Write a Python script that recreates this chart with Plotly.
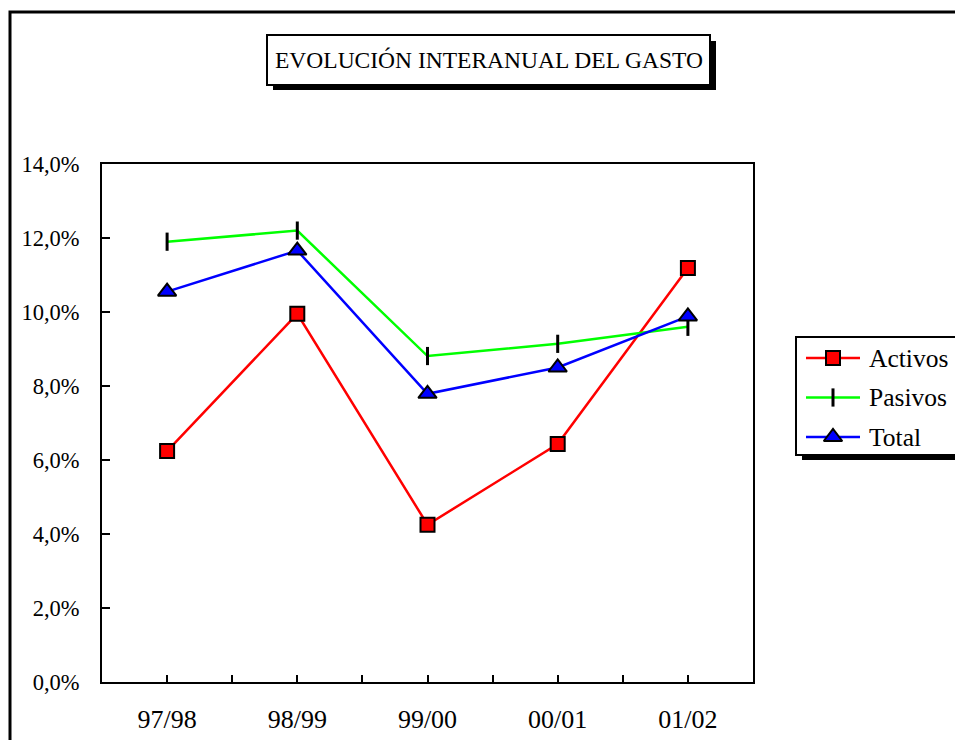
import plotly.graph_objects as go

# ---- data ----
categories = ["97/98", "98/99", "99/00", "00/01", "01/02"]
activos = [6.24, 9.95, 4.25, 6.43, 11.19]
pasivos = [11.90, 12.20, 8.81, 9.14, 9.60]
total = [10.55, 11.66, 7.79, 8.50, 9.88]
y_ticks = [0, 2, 4, 6, 8, 10, 12, 14]
y_ticktext = ["0,0%", "2,0%", "4,0%", "6,0%", "8,0%", "10,0%", "12,0%", "14,0%"]
series_names = ["Activos", "Pasivos", "Total"]

# page offset (browser body margin)
OX, OY = 8, 8
W, H = 963 - OX, 740 - OY
FONT = "Liberation Serif, Times New Roman, Times, serif"

def px(xp):  # page pixel -> paper fraction (margins are zero)
    return (xp - OX) / W

def py(yp):
    return 1 - (yp - OY) / H

# styles
styles = [
    dict(line=dict(color="#FF0000", width=2.5),
         marker=dict(symbol="square", size=14, color="#FF0000", line=dict(color="black", width=2))),
    dict(line=dict(color="#00FF00", width=2.5),
         marker=dict(symbol="line-ns", size=13, color="black", line=dict(color="black", width=3))),
    dict(line=dict(color="#0000FF", width=2.5),
         marker=dict(symbol="triangle-up", size=16, color="#0000FF", line=dict(color="black", width=2))),
]
values = [activos, pasivos, total]

xpos = list(range(len(categories)))

fig = go.Figure()
for name, vals, st in zip(series_names, values, styles):
    fig.add_trace(go.Scatter(x=xpos, y=vals, name=name, mode="lines+markers",
                             line=st["line"], marker=st["marker"],
                             xaxis="x", yaxis="y", showlegend=False))

# ---- manual legend on an overlay axis measured in page pixels ----
LEG_X0, LEG_X1, LEG_Y0, LEG_Y1 = 796, 956, 337, 455
row_y = [358, 397.5, 437]
annotations = []
for name, st, ry in zip(series_names, styles, row_y):
    fig.add_trace(go.Scatter(x=[806, 860], y=[ry, ry], mode="lines", line=st["line"],
                             xaxis="x2", yaxis="y2", showlegend=False, hoverinfo="skip"))
    fig.add_trace(go.Scatter(x=[833], y=[ry], mode="markers", marker=st["marker"],
                             xaxis="x2", yaxis="y2", showlegend=False, hoverinfo="skip"))
    annotations.append(dict(text=name, x=867, y=ry, xref="x2", yref="y2",
                            xanchor="left", yanchor="middle", showarrow=False,
                            font=dict(family=FONT, size=25.5, color="black")))

annotations.append(dict(text="EVOLUCIÓN INTERANUAL DEL GASTO", xref="paper", yref="paper",
                        x=px(489), y=py(60), xanchor="center", yanchor="middle",
                        showarrow=False, font=dict(family=FONT, size=23.5, color="black")))

# x ticks at categories and midpoints
tickvals = []
ticktext = []
for i, c in enumerate(categories):
    tickvals.append(i)
    ticktext.append(c)
    if i < len(categories) - 1:
        tickvals.append(i + 0.5)
        ticktext.append("")

shapes = [
    # outer chart border
    dict(type="rect", xref="paper", yref="paper",
         x0=px(10), x1=px(980), y0=py(12), y1=py(780),
         line=dict(color="black", width=3), fillcolor="rgba(0,0,0,0)", layer="below"),
    # title shadow + box
    dict(type="rect", xref="paper", yref="paper",
         x0=px(273), x1=px(716), y0=py(41), y1=py(90),
         line=dict(width=0), fillcolor="black", layer="below"),
    dict(type="rect", xref="paper", yref="paper",
         x0=px(267), x1=px(710), y0=py(35), y1=py(85),
         line=dict(color="black", width=2), fillcolor="white", layer="below"),
    # legend shadow + box
    dict(type="rect", xref="paper", yref="paper",
         x0=px(LEG_X0 + 6), x1=px(LEG_X1 + 5), y0=py(LEG_Y0 + 5), y1=py(LEG_Y1 + 5),
         line=dict(width=0), fillcolor="black", layer="below"),
    dict(type="rect", xref="paper", yref="paper",
         x0=px(LEG_X0), x1=px(LEG_X1), y0=py(LEG_Y0), y1=py(LEG_Y1),
         line=dict(color="black", width=2), fillcolor="white", layer="below"),
]

fig.update_layout(
    template="none",
    width=W, height=H,
    margin=dict(l=0, r=0, t=0, b=0, pad=0, autoexpand=False),
    paper_bgcolor="white", plot_bgcolor="rgba(0,0,0,0)",
    font=dict(family=FONT, color="black", size=23),
    showlegend=False,
    shapes=shapes,
    annotations=annotations,
    xaxis=dict(domain=[px(102), px(753)], range=[-0.5, len(categories) - 0.5],
               automargin=False,
               tickmode="array", tickvals=tickvals, ticktext=ticktext,
               ticks="inside", ticklen=7, tickwidth=2, tickcolor="black",
               showline=True, mirror=True, linecolor="black", linewidth=2,
               showgrid=False, zeroline=False,
               tickfont=dict(family=FONT, size=26), ticklabelstandoff=13),
    yaxis=dict(domain=[py(682), py(164)], range=[0, 14],
               automargin=False,
               tickmode="array", tickvals=y_ticks, ticktext=y_ticktext,
               ticks="inside", ticklen=8, tickwidth=2, tickcolor="black",
               showline=True, mirror=True, linecolor="black", linewidth=2,
               showgrid=False, zeroline=False,
               tickfont=dict(family=FONT, size=22.5), ticklabelstandoff=16),
    xaxis2=dict(domain=[px(LEG_X0), px(LEG_X1)], range=[LEG_X0, LEG_X1],
                visible=False, fixedrange=True, anchor="y2", automargin=False),
    yaxis2=dict(domain=[py(LEG_Y1), py(LEG_Y0)], range=[LEG_Y1, LEG_Y0],
                visible=False, fixedrange=True, anchor="x2", automargin=False),
)

fig.write_html("out.html")
